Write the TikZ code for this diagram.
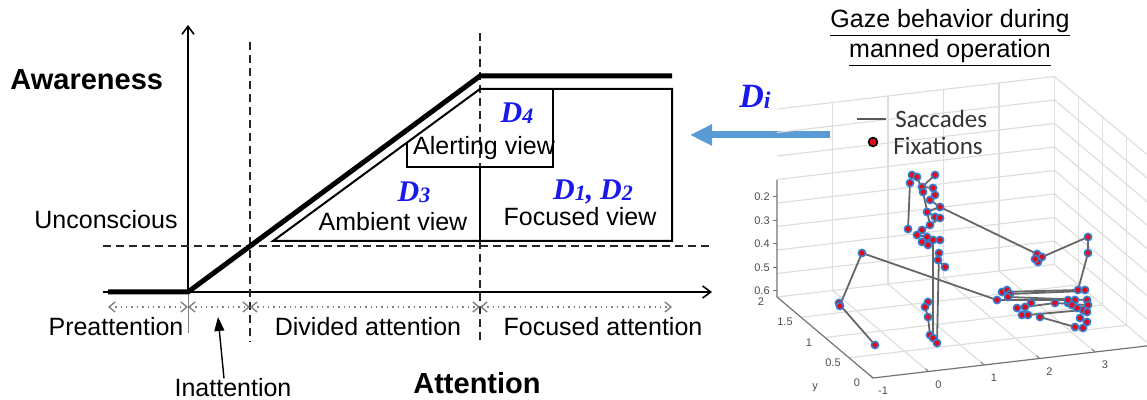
\documentclass[tikz,border=0pt]{standalone}
\usepackage{fontspec}
\setmainfont{Liberation Sans}
\newfontfamily\dfont{Liberation Serif}
\newfontfamily\legfont{Carlito}
\usetikzlibrary{arrows.meta}
\definecolor{dblue}{RGB}{25,25,235}
\definecolor{arrblue}{RGB}{91,155,213}
\definecolor{fixred}{RGB}{225,10,25}
\definecolor{fixedge}{RGB}{55,125,205}
\definecolor{gridgray}{RGB}{222,222,222}
\newcommand{\dvar}[2][15]{{\dfont\bfseries\itshape\color{dblue}\fontsize{#1}{#1}\selectfont D\raisebox{-0.1ex}{\fontsize{11}{11}\selectfont #2}}}
\begin{document}
\begin{tikzpicture}[x=0.5pt,y=-0.5pt,
	every node/.style={font=\fontsize{12.5}{14}\selectfont,inner sep=0pt},
	thickline/.style={line width=2.5pt,line join=miter},
	boxline/.style={line width=1pt},
	axisline/.style={line width=0.8pt,-{Straight Barb[length=4pt,width=6pt]}},
	guideline/.style={dash pattern=on 4pt off 2.5pt,line width=0.7pt,black!85},
	spanarrow/.style={gray,dotted,line width=0.7pt,{Straight Barb[length=3pt,width=5pt]}-{Straight Barb[length=3pt,width=5pt]}},
	sacc/.style={line width=0.9pt,black!60},
	fixdot/.style={fill=fixred,draw=fixedge,line width=0.8pt},
	ticklab/.style={font=\fontsize{5.5}{6}\selectfont,text=black!70}]
	\useasboundingbox (0,0) rectangle (1147,400);

	% awareness / attention chart
	\path (188,292) coordinate (o) (188,25) coordinate (ytop) (103,292) coordinate (xbeg) (712,292) coordinate (xend);
	\path (108,292) coordinate (t0) (480,76) coordinate (t1) (672,76) coordinate (t2);
	\path (273,241) coordinate (f0) (480,89) coordinate (f1) (672,89) coordinate (f2) (672,241) coordinate (f3);
	\path (407,142.6) coordinate (a0) (407,167) coordinate (a1) (553,167) coordinate (a2) (553,89) coordinate (a3);
	\path (480,167) coordinate (m0) (480,241) coordinate (m1);
	\draw[axisline] (o) -- (ytop);
	\draw[axisline] (xbeg) -- (xend);
	\draw[guideline] (250,42) coordinate (g1) -- (250,342);
	\draw[guideline] (480,33) coordinate (g2) -- (480,342);
	\draw[guideline] (103,246) -- (710,246);
	\draw[gray,line width=0.5pt] (o) -- (188,333);
	\draw[thickline] (t0) -- (o) -- (t1) -- (t2);
	\draw[boxline] (f0) -- (f1) -- (f2) -- (f3) -- cycle;
	\draw[boxline] (a0) -- (a1) -- (a2) -- (a3);
	\draw[boxline] (m0) -- (m1);
	\draw[spanarrow] (108,307) -- (188,307);
	\draw[spanarrow] (188,307) -- (250,307);
	\draw[spanarrow] (250,307) -- (480,307);
	\draw[spanarrow] (480,307) -- (672,307);

	\node[anchor=west,font=\fontsize{14.5}{16}\selectfont\bfseries] (aware) at (10,80) {Awareness};
	\node (uncon) at (106,220) {Unconscious};
	\node (pre) at (116,327) {Preattention};
	\node (div) at (368,327) {Divided attention};
	\node (foc) at (603,327) {Focused attention};
	\node (inat) at (233,388) {Inattention};
	\node[font=\fontsize{14.5}{16}\selectfont\bfseries] (att) at (477,383) {Attention};
	\path (218,317) coordinate (inh);
	\draw[line width=0.7pt,-{Triangle[length=7pt,width=5pt]}] ([xshift=-4.5pt]inat.north) -- (inh);

	\node (d4) at (517,113) {\dvar{4}};
	\node (alert) at (484,148) {Alerting view};
	\node (d3) at (414,192) {\dvar{3}};
	\node (amb) at (393,222) {Ambient view};
	\node (d12) at (593,192) {\dvar{1}{\dfont\bfseries\itshape\color{dblue}\fontsize{15}{15}\selectfont,} \dvar{2}};
	\node (focv) at (580,217) {Focused view};

	% gaze plot
	\node (title1) at (950,23) {\underline{Gaze behavior during}};
	\node (title2) at (950,53) {\underline{manned operation}};
	\node (di) at (755,97) {\dvar[17]{\fontsize{12}{12}\selectfont i}};
	\path (830,135) coordinate (gz) (690,135) coordinate (ah);
	\draw[arrblue,line width=3.5pt,-{Triangle[length=11pt,width=10pt]}] (gz) -- (ah);

	\begin{scope}
		\clip (700,60) rectangle (1147,400);
		\foreach \i in {1,...,5}
			\draw[gridgray,line width=0.6pt] (777+55.5*\i,297-6.5*\i) -- ++(0,-188);
		\foreach \k in {1,...,8}
			\draw[gridgray,line width=0.6pt] (777,297-23.5*\k) -- (1054.5,264.5-23.5*\k);
		\foreach \v in {0,0.5,1,1.5}
			\draw[gridgray,line width=0.6pt] (1150.5-48*\v,345.5-40.5*\v) -- ++(0,-188);
		\foreach \k in {1,...,8}
			\draw[gridgray,line width=0.6pt] (1054.5,264.5-23.5*\k) -- (1150.5,345.5-23.5*\k);
		\foreach \i in {1,...,5}
			\draw[gridgray,line width=0.6pt] (873+55.5*\i,378-6.5*\i) -- (777+55.5*\i,297-6.5*\i);
		\foreach \v in {0.5,1,1.5,2}
			\draw[gridgray,line width=0.6pt] (873-48*\v,378-40.5*\v) -- (1150.5-48*\v,345.5-40.5*\v);
		\draw[black!55,line width=0.6pt] (777,180) -- (777,297) -- (873,378) -- (1150.5,345.5);
	\end{scope}
	\foreach \k/\t in {0/0.6,1/0.5,2/0.4,3/0.3,4/0.2} {
		\draw[black!55,line width=0.5pt] (777,291-23.5*\k) -- ++(-4,0);
		\node[ticklab] at (762,291-23.5*\k) {\t};
	}
	\foreach \v/\t in {0/0,0.5/0.5,1/1,1.5/1.5,2/2}
		\node[ticklab] at (857-48*\v,383-40.5*\v) {\t};
	\node[ticklab] at (815,388) {y};
	\foreach \u/\t in {-1/-1,0/0,1/1,2/2,3/3} {
		\draw[black!55,line width=0.5pt] (873+55.5*\u+55.5,378-6.5*\u-6.5) -- ++(-3,-3);
		\node[ticklab] at (883+55.5*\u+55.5,391-6.5*\u-6.5) {\t};
	}

	\draw[sacc] (875,345) -- (840,305) -- (862,253) -- (997,300);
	\draw[sacc] (940,207) -- (1037,254);
	\draw[sacc] (1042,257) -- (1088,237) -- (1088,253) -- (1078,290);
	\draw[sacc] (1002,292) -- (1078,290);
	\draw[sacc] (1010,294) -- (1085,291);
	\draw[sacc] (997,300) -- (1068,300);
	\draw[sacc] (1008,297) -- (1087,300);
	\draw[sacc] (1017,308) -- (1055,303) -- (1087,305);
	\draw[sacc] (1040,317) -- (1075,327) -- (1083,328);
	\draw[sacc] (1028,315) -- (1083,310);
	\draw[sacc] (1022,315) -- (1031,303);
	\draw[sacc] (912,175) -- (910,183) -- (908,229);
	\draw[sacc] (935,175) -- (922,187) -- (933,188) -- (935,195) -- (930,200) -- (940,207) -- (927,212) -- (935,217) -- (940,218) -- (930,225) -- (922,230) -- (917,235) -- (927,237) -- (933,240) -- (940,240) -- (922,242) -- (928,245);
	\draw[sacc] (917,177) -- (923,192) -- (930,225);
	\draw[sacc] (933,240) -- (933,337);
	\draw[sacc] (939,253) -- (937,343);
	\draw[sacc] (928,302) -- (925,307) -- (928,317) -- (930,335) -- (933,338) -- (937,343);
	\draw[sacc] (939,253) -- (938,260) -- (945,267);
	\foreach \p in {(862,253),(839,303),(840,306),(875,345),
		(912,175),(917,177),(935,175),(910,183),(922,187),(923,192),(933,188),(935,195),(930,200),(940,207),(927,212),(935,217),(940,218),(930,225),(908,229),(922,230),(917,235),(927,237),(933,240),(940,240),(922,242),(928,245),(939,253),(938,260),(945,267),
		(928,302),(925,307),(928,317),(930,335),(933,338),(937,343),
		(1037,254),(1042,257),(1038,262),(1035,259),(1088,237),(1088,253),
		(997,300),(1002,292),(1007,290),(1010,294),(1008,297),(1017,308),(1022,315),(1028,315),(1025,307),(1031,303),(1040,317),(1055,303),(1068,303),(1075,300),(1078,290),(1085,290),(1087,300),(1088,305),(1083,310),(1077,308),(1087,312),(1080,318),(1087,322),(1075,327),(1083,328),(1068,300),(1072,305)}
		\filldraw[fixdot] \p circle (1.8pt);

	\draw[black!65,line width=1pt] (857,119) coordinate (ls0) -- (886,119) coordinate (ls1);
	\filldraw[fill=fixred,draw=black,line width=0.8pt] (873,142) circle (2.2pt);
	\node[anchor=west,font=\legfont\fontsize{12.5}{14}\selectfont,text=black!80] (lsac) at (895,119) {Saccades};
	\node[anchor=west,font=\legfont\fontsize{12.5}{14}\selectfont,text=black!80] (lfix) at (893,146) {Fixations};
\end{tikzpicture}
\end{document}
